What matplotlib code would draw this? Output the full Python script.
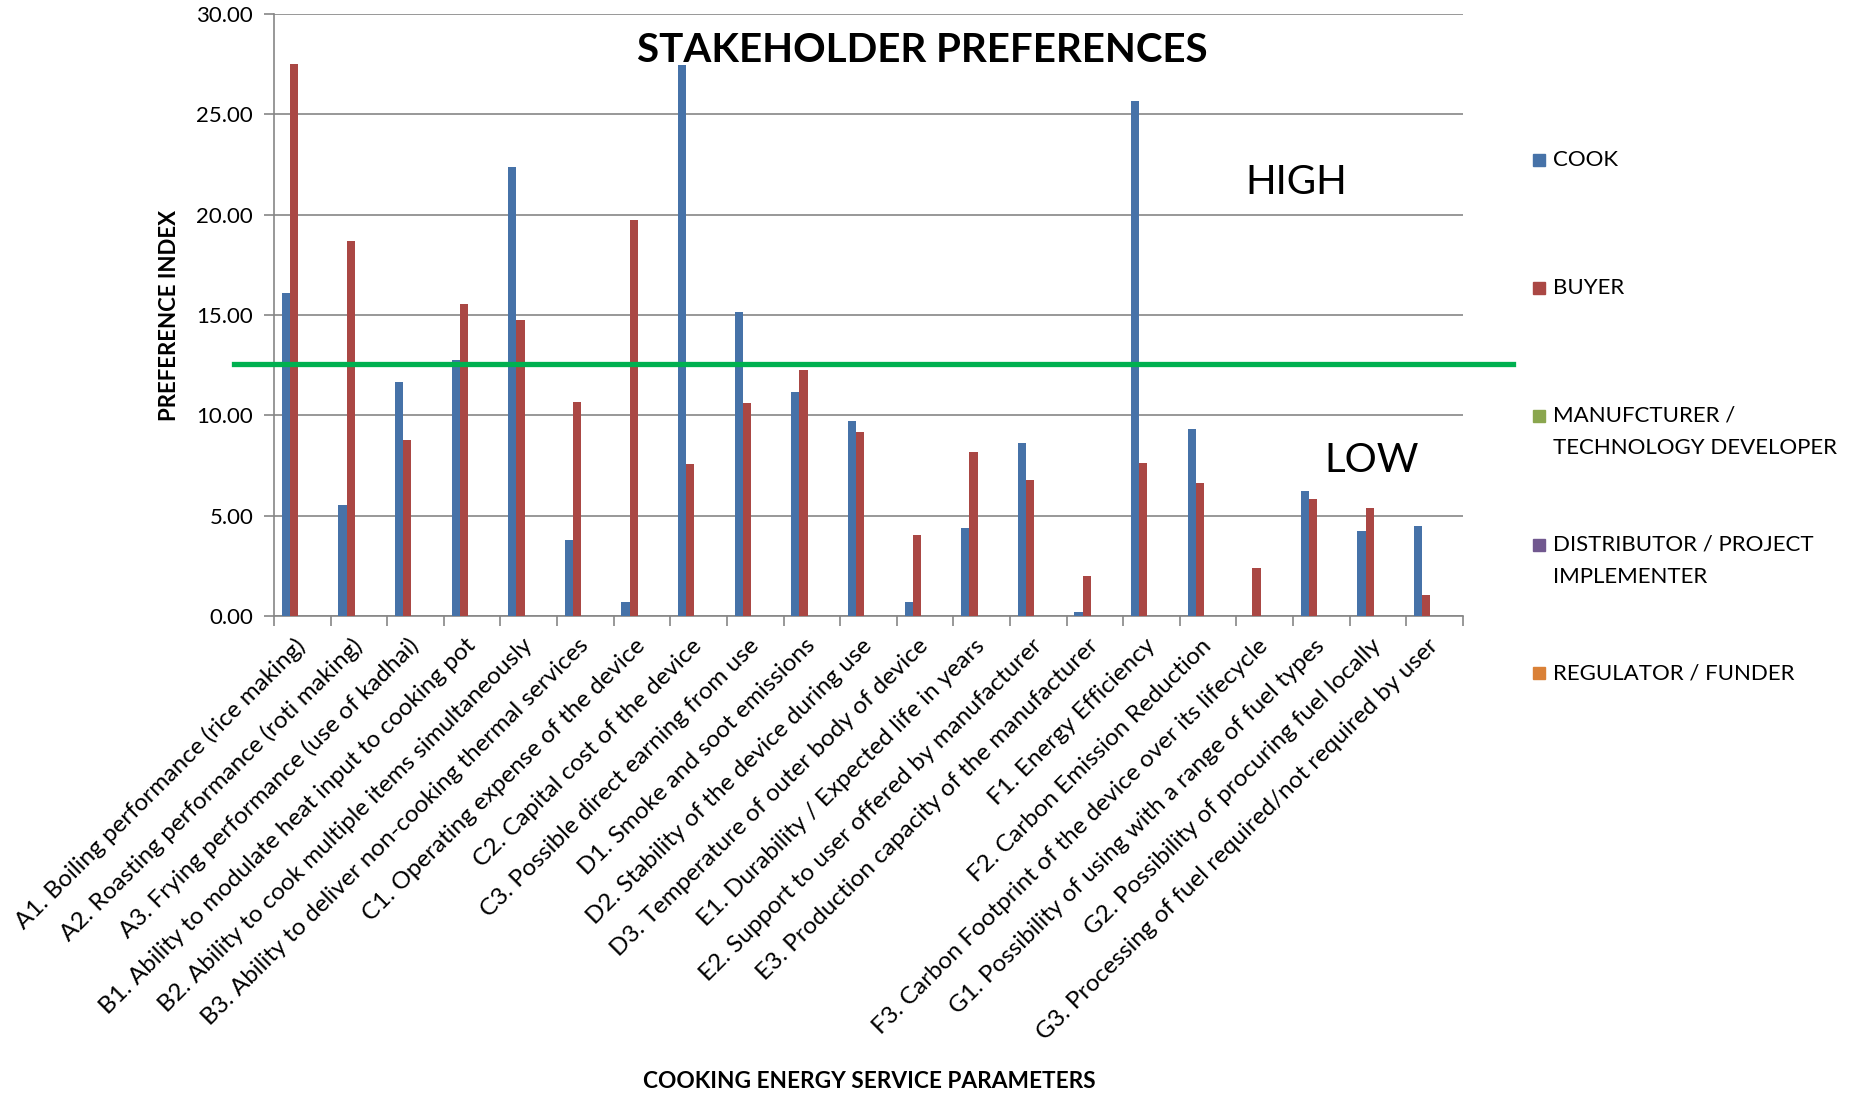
import numpy as np
import matplotlib
matplotlib.use('Agg')
import matplotlib.pyplot as plt
from matplotlib.patches import Rectangle

plt.rcParams['font.family'] = ['Lato', 'DejaVu Sans']

# Data
categories = [
    "A1. Boiling performance (rice making)",
    "A2. Roasting performance (roti making)",
    "A3. Frying performance (use of kadhai)",
    "B1. Ability to modulate heat input to cooking pot",
    "B2. Ability to cook multiple items simultaneously",
    "B3. Ability to deliver non-cooking thermal services",
    "C1. Operating expense of the device",
    "C2. Capital cost of the device",
    "C3. Possible direct earning from use",
    "D1. Smoke and soot emissions",
    "D2. Stability of the device during use",
    "D3. Temperature of outer body of device",
    "E1. Durability / Expected life in years",
    "E2. Support to user offered by manufacturer",
    "E3. Production capacity of the manufacturer",
    "F1. Energy Efficiency",
    "F2. Carbon Emission Reduction",
    "F3. Carbon Footprint of the device over its lifecycle",
    "G1. Possibility of using with a range of fuel types",
    "G2. Possibility of procuring fuel locally",
    "G3. Processing of fuel required/not required by user",
]
cook = [16.11, 5.52, 11.65, 12.75, 22.36, 3.79, 0.69, 27.45, 15.13, 11.18, 9.74,
        0.69, 4.40, 8.64, 0.18, 25.66, 9.31, 0.00, 6.24, 4.22, 4.47]
buyer = [27.52, 18.70, 8.78, 15.56, 14.75, 10.65, 19.76, 7.58, 10.61, 12.24, 9.19,
         4.05, 8.15, 6.76, 2.02, 7.64, 6.64, 2.38, 5.84, 5.36, 1.05]
manufacturer = [0, 0, 0, 0, 0, 0, 0, 0, 0, 0, 0, 0, 0, 0, 0, 0, 0, 0, 0, 0, 0]
distributor = [0, 0, 0, 0, 0, 0, 0, 0, 0, 0, 0, 0, 0, 0, 0, 0, 0, 0, 0, 0, 0]
regulator = [0, 0, 0, 0, 0, 0, 0, 0, 0, 0, 0, 0, 0, 0, 0, 0, 0, 0, 0, 0, 0]

series_names = ["COOK", "BUYER", "MANUFCTURER /\nTECHNOLOGY DEVELOPER",
                "DISTRIBUTOR / PROJECT\nIMPLEMENTER", "REGULATOR / FUNDER"]
series_values = [cook, buyer, manufacturer, distributor, regulator]
colors = ['#4672A8', '#AA4744', '#8AA64E', '#71588F', '#DA8137']

threshold = 12.57  # green HIGH / LOW divider

fig = plt.figure(figsize=(18.54, 10.95), dpi=100)
ax = fig.add_axes([0.1478, 0.4374, 0.6412, 0.5498])

x = np.arange(len(categories))
w = 0.145
for i, (vals, c) in enumerate(zip(series_values, colors)):
    ax.bar(x + (i - 2) * w, vals, width=w, color=c, zorder=3)

ax.set_xlim(-0.5, len(categories) - 0.5)
ax.set_ylim(0, 30)
ax.set_yticks(np.arange(0, 31, 5))
ax.set_yticklabels([f"{v:.2f}" for v in np.arange(0, 31, 5)], fontsize=16)
ax.yaxis.grid(True, color='#868686', linewidth=1.2, zorder=0)

ax.set_xticks(x)
ax.set_xticklabels(categories, rotation=45, ha='right', va='center',
                   rotation_mode='anchor', fontsize=17.5)
ax.set_xticks(np.arange(-0.5, len(categories)), minor=True)
ax.tick_params(axis='x', which='major', length=0, pad=19)
ax.tick_params(axis='x', which='minor', length=7, color='#868686', width=1.2)
ax.tick_params(axis='y', length=7, color='#868686', width=1.2, pad=8)

for s in ['top', 'right']:
    ax.spines[s].set_visible(False)
for s in ['left', 'bottom']:
    ax.spines[s].set_color('#868686')
    ax.spines[s].set_linewidth(1.2)

# divider line, runs past both ends of the plot
ax.plot([-0.034, 1.042], [threshold, threshold], color='#00B050', linewidth=3.8,
        transform=ax.get_yaxis_transform(), clip_on=False, zorder=5)

ax.set_ylabel("PREFERENCE INDEX", fontsize=16, fontweight='bold')
ax.yaxis.set_label_coords(-0.079, 0.5)
fig.text(869 / 1854, 1 - 1082 / 1095, "COOKING ENERGY SERVICE PARAMETERS",
         fontsize=16.3, fontweight='bold', ha='center', va='center')

fig.text(922 / 1854, 1 - 51 / 1095, "STAKEHOLDER PREFERENCES", fontsize=29,
         fontweight='bold', ha='center', va='center')
fig.text(1296 / 1854, 1 - 182 / 1095, "HIGH", fontsize=29, ha='center', va='center')
fig.text(1372 / 1854, 1 - 460 / 1095, "LOW", fontsize=29, ha='center', va='center')

# legend, one entry per series down the right side
leg_y = [160, 288, 432, 561, 673]
for name, c, yy in zip(series_names, colors, leg_y):
    first_line = yy if '\n' not in name else yy - 16.5
    fig.patches.append(Rectangle((1533 / 1854, 1 - (first_line + 6) / 1095),
                                 12 / 1854, 12 / 1095, color=c,
                                 transform=fig.transFigure, figure=fig))
    fig.text(1553 / 1854, 1 - yy / 1095, name, fontsize=16, ha='left',
             va='center', linespacing=1.8)

fig.savefig('out.png', dpi=100)
